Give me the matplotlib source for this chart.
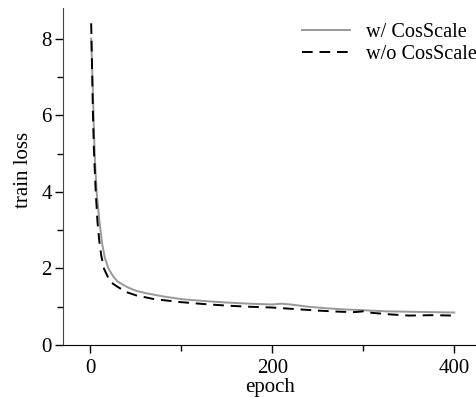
import matplotlib
matplotlib.use('Agg')
import matplotlib.pyplot as plt
from matplotlib.ticker import MultipleLocator

plt.rcParams['font.family'] = ['Liberation Serif', 'DejaVu Serif']

# solid: w/ CosScale
ep_w = [1, 2, 3, 4, 5, 7, 10, 13, 16, 20, 25, 30, 40, 50, 60, 80, 100, 125, 150,
        175, 200, 210, 220, 240, 260, 280, 300, 325, 350, 375, 400]
loss_w = [8.0, 7.3, 6.5, 5.6, 4.9, 4.0, 3.25, 2.65, 2.28, 2.0, 1.8, 1.66, 1.52, 1.42, 1.36,
          1.27, 1.2, 1.15, 1.11, 1.08, 1.06, 1.08, 1.06, 1.0, 0.96, 0.93, 0.91, 0.88,
          0.87, 0.86, 0.85]

# dashed: w/o CosScale
ep_wo = [1, 2, 3, 4, 6, 8, 10, 12, 15, 20, 25, 30, 40, 50, 70, 100, 125, 150, 175,
         200, 225, 250, 275, 290, 300, 310, 330, 350, 375, 400]
loss_wo = [8.4, 7.2, 6.0, 5.1, 4.0, 3.2, 2.7, 2.35, 2.0, 1.74, 1.6, 1.52, 1.38, 1.3,
           1.2, 1.12, 1.07, 1.03, 1.0, 0.98, 0.94, 0.9, 0.87, 0.86, 0.88, 0.84, 0.8,
           0.77, 0.78, 0.77]

fig = plt.figure(figsize=(4.77, 3.98), dpi=100)
ax = fig.add_axes([0.132, 0.133, 0.868, 0.847])

ax.plot(ep_w, loss_w, color='#999999', lw=1.4, label='w/ CosScale')
ax.plot(ep_wo, loss_wo, color='black', lw=1.4, ls=(0, (5.5, 3.5)), label='w/o CosScale')

ax.set_xlim(-30, 425)
ax.set_ylim(0, 8.8)
ax.set_xticks([0, 200, 400])
ax.xaxis.set_minor_locator(MultipleLocator(100))
ax.set_yticks([0, 2, 4, 6, 8])
ax.yaxis.set_minor_locator(MultipleLocator(1))
ax.tick_params(which='both', direction='out', labelsize=15, width=1)
ax.tick_params(which='major', length=6)
ax.tick_params(which='minor', length=4)
ax.tick_params(axis='x', pad=4)
ax.tick_params(axis='y', pad=2)

for s in ['top', 'right']:
    ax.spines[s].set_visible(False)
ax.spines['left'].set_color('#444444')

ax.set_xlabel('epoch', fontsize=15, labelpad=0)
ax.set_ylabel('train loss', fontsize=15)
ax.yaxis.set_label_coords(-0.072, 0.52)
ax.legend(loc='upper right', frameon=False, fontsize=14.6, handlelength=2.4,
          handletextpad=0.8, borderaxespad=0.3, labelspacing=0.12,
          bbox_to_anchor=(1.035, 0.998))

fig.savefig('out.png', dpi=100)
